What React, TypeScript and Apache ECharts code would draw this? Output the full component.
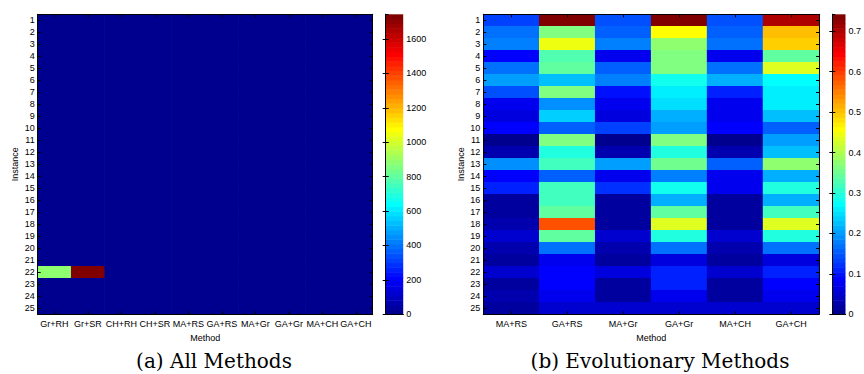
import React, { useEffect, useRef } from 'react';
import * as echarts from 'echarts';

const instances = ['1','2','3','4','5','6','7','8','9','10','11','12','13','14','15','16','17','18','19','20','21','22','23','24','25'];
const allMethods = ['Gr+RH','Gr+SR','CH+RH','CH+SR','MA+RS','GA+RS','MA+Gr','GA+Gr','MA+CH','GA+CH'];
const evoMethods = ['MA+RS','GA+RS','MA+Gr','GA+Gr','MA+CH','GA+CH'];

// Non-evolutionary methods (only row 22 is visible above the lowest colour step)
const grRH = [4,6,5,3,5,7,4,3,3,4,2,2,6,3,4,2,2,3,3,2,2,890,2,2,2];
const grSR = [6,8,7,4,7,9,5,4,4,5,2,3,8,4,5,2,3,4,3,3,2,1744,3,2,3];
const chRH = [3,4,4,2,4,5,3,2,2,3,1,1,4,2,3,1,1,2,2,1,1,6,1,1,1];
const chSR = [5,6,6,3,6,7,4,3,3,4,2,2,6,3,4,2,2,3,3,2,2,9,2,2,2];

// Evolutionary methods
const maRS = [0.13,0.17,0.175,0.09,0.17,0.20,0.14,0.07,0.065,0.09,0.005,0.03,0.19,0.09,0.11,0.02,0.02,0.025,0.055,0.03,0.015,0.05,0.02,0.025,0.02];
const gaRS = [0.742,0.37,0.45,0.33,0.34,0.23,0.37,0.19,0.24,0.155,0.37,0.29,0.32,0.16,0.32,0.32,0.34,0.58,0.345,0.17,0.075,0.09,0.09,0.075,0.05];
const maGr = [0.14,0.16,0.175,0.07,0.16,0.18,0.095,0.07,0.065,0.13,0.005,0.03,0.20,0.075,0.12,0.02,0.02,0.015,0.055,0.03,0.02,0.065,0.02,0.02,0.055];
const gaGr = [0.74,0.46,0.38,0.37,0.37,0.28,0.26,0.25,0.21,0.20,0.37,0.29,0.35,0.175,0.28,0.22,0.34,0.43,0.30,0.17,0.065,0.105,0.105,0.075,0.05];
const maCH = [0.145,0.155,0.17,0.07,0.17,0.21,0.105,0.075,0.07,0.085,0.005,0.03,0.155,0.07,0.08,0.02,0.02,0.015,0.055,0.03,0.02,0.055,0.02,0.02,0.05];
const gaCH = [0.70,0.505,0.49,0.345,0.43,0.27,0.265,0.265,0.225,0.16,0.20,0.225,0.38,0.21,0.29,0.22,0.32,0.43,0.29,0.17,0.065,0.11,0.085,0.08,0.05];

const allTickInterval = 200;
const evoTickInterval = 0.1;
const captionA = '(a) All Methods';
const captionB = '(b) Evolutionary Methods';

// MATLAB jet(64)
function jet(m: number): string[] {
  const n = Math.ceil(m / 4);
  const u: number[] = [];
  for (let i = 1; i <= n; i++) u.push(i / n);
  for (let i = 1; i <= n - 1; i++) u.push(1);
  for (let i = n; i >= 1; i--) u.push(i / n);
  const g0 = Math.ceil(n / 2) - (m % 4 === 1 ? 1 : 0);
  const J = Array.from({ length: m }, () => [0, 0, 0]);
  for (let k = 0; k < u.length; k++) {
    const g = g0 + k + 1;
    const r = g + n;
    const b = g - n;
    if (r >= 1 && r <= m) J[r - 1][0] = u[k];
    if (g >= 1 && g <= m) J[g - 1][1] = u[k];
    if (b >= 1 && b <= m) J[b - 1][2] = u[k];
  }
  return J.map(c => `rgb(${Math.round(c[0] * 255)},${Math.round(c[1] * 255)},${Math.round(c[2] * 255)})`);
}
const JET = jet(64);

function pieces(max: number) {
  return JET.map((color, k) => {
    const p: any = { gte: (k * max) / 64, color };
    if (k < 63) p.lt = ((k + 1) * max) / 64; else p.lte = max * 10;
    return p;
  });
}

const FONT = '"Liberation Sans", Arial, Helvetica, sans-serif';
const LABEL = { fontFamily: FONT, fontSize: 9, color: '#000' };

function buildData(cols: number[][]) {
  const d: number[][] = [];
  cols.forEach((col, j) => col.forEach((v, i) => d.push([j, i, v])));
  return d;
}

export default function App() {
  const ref = useRef<HTMLDivElement>(null);
  useEffect(() => {
    if (!ref.current) return;
    const chart = echarts.init(ref.current, undefined, { renderer: 'svg' });

    const allCols = [grRH, grSR, chRH, chSR, maRS, gaRS, maGr, gaGr, maCH, gaCH];
    const evoCols = [maRS, gaRS, maGr, gaGr, maCH, gaCH];
    const maxAll = Math.max(...allCols.flat());
    const maxEvo = Math.max(...evoCols.flat());

    const lineStyle = { color: '#000', width: 1 };
    const catX = (gridIndex: number, data: string[], position: 'top' | 'bottom', labels: boolean, name = '') => ({
      type: 'category', gridIndex, data, position, z: 10,
      axisLine: { show: true, lineStyle },
      axisTick: { show: true, inside: true, alignWithLabel: true, length: 3, lineStyle },
      axisLabel: { show: labels, ...LABEL, margin: 5, interval: 0 },
      splitLine: { show: false },
      name, nameLocation: 'middle', nameGap: 15, nameTextStyle: LABEL,
    });
    const catY = (gridIndex: number, position: 'left' | 'right', labels: boolean, name = '') => ({
      type: 'category', gridIndex, data: instances, inverse: true, position, z: 10,
      axisLine: { show: true, lineStyle },
      axisTick: { show: true, inside: true, alignWithLabel: true, length: 3, lineStyle },
      axisLabel: { show: labels, ...LABEL, margin: 3, interval: 0 },
      splitLine: { show: false },
      name, nameLocation: 'middle', nameGap: 18, nameRotate: 90, nameTextStyle: LABEL,
    });
    const cbX = (gridIndex: number, position: 'top' | 'bottom') => ({
      type: 'value', gridIndex, min: 0, max: 1, position, z: 10,
      axisLine: { show: true, lineStyle },
      axisTick: { show: false }, axisLabel: { show: false }, splitLine: { show: false },
    });
    const cbY = (gridIndex: number, position: 'left' | 'right', max: number, interval: number, labels: boolean) => ({
      type: 'value', gridIndex, min: 0, max, interval, position, z: 10,
      axisLine: { show: true, lineStyle },
      axisTick: { show: true, inside: true, length: 3, lineStyle },
      axisLabel: {
        show: labels, ...LABEL, margin: 3, showMaxLabel: false,
        formatter: (v: number) => String(Math.round(v * 1000) / 1000),
      },
      splitLine: { show: false },
    });

    const colorbarSeries = (xAxisIndex: number, yAxisIndex: number, max: number) => ({
      type: 'custom', xAxisIndex, yAxisIndex, silent: true,
      data: JET.map((_, k) => [k]),
      renderItem: (params: any, api: any) => {
        const k = api.value(0);
        const p0 = api.coord([0, (k * max) / 64]);
        const p1 = api.coord([1, ((k + 1) * max) / 64]);
        return {
          type: 'rect',
          shape: { x: p0[0], y: p1[1], width: p1[0] - p0[0], height: p0[1] - p1[1] + 0.5 },
          style: { fill: JET[k] },
        };
      },
    });

    const capFont = '20px "DejaVu Serif", serif';
    chart.setOption({
      animation: false,
      grid: [
        { left: 37.7, top: 14.3, width: 335, height: 300 },
        { left: 385.7, top: 14.3, width: 17.5, height: 300 },
        { left: 483.3, top: 14.3, width: 335.7, height: 300 },
        { left: 832.3, top: 14.3, width: 17, height: 300 },
      ],
      xAxis: [
        catX(0, allMethods, 'bottom', true, 'Method'),
        catX(0, allMethods, 'top', false),
        cbX(1, 'bottom'),
        cbX(1, 'top'),
        catX(2, evoMethods, 'bottom', true, 'Method'),
        catX(2, evoMethods, 'top', false),
        cbX(3, 'bottom'),
        cbX(3, 'top'),
      ],
      yAxis: [
        catY(0, 'left', true, 'Instance'),
        catY(0, 'right', false),
        cbY(1, 'right', maxAll, allTickInterval, true),
        cbY(1, 'left', maxAll, allTickInterval, false),
        catY(2, 'left', true, 'Instance'),
        catY(2, 'right', false),
        cbY(3, 'right', maxEvo, evoTickInterval, true),
        cbY(3, 'left', maxEvo, evoTickInterval, false),
      ],
      visualMap: [
        { type: 'piecewise', show: false, seriesIndex: 0, dimension: 2, pieces: pieces(maxAll) },
        { type: 'piecewise', show: false, seriesIndex: 2, dimension: 2, pieces: pieces(maxEvo) },
      ],
      series: [
        { type: 'heatmap', xAxisIndex: 0, yAxisIndex: 0, data: buildData(allCols), itemStyle: { borderWidth: 0 } },
        colorbarSeries(2, 2, maxAll),
        { type: 'heatmap', xAxisIndex: 4, yAxisIndex: 4, data: buildData(evoCols), itemStyle: { borderWidth: 0 } },
        colorbarSeries(6, 6, maxEvo),
      ],
      graphic: [
        { type: 'text', x: 214, y: 361, style: { text: captionA, font: capFont, fill: '#000', textAlign: 'center', textVerticalAlign: 'middle' } },
        { type: 'text', x: 660, y: 361, style: { text: captionB, font: capFont, fill: '#000', textAlign: 'center', textVerticalAlign: 'middle' } },
      ],
    });
    return () => chart.dispose();
  }, []);
  return <div ref={ref} style={{ position: 'fixed', left: 0, top: 0, width: 864, height: 374, background: '#fff' }} />;
}
